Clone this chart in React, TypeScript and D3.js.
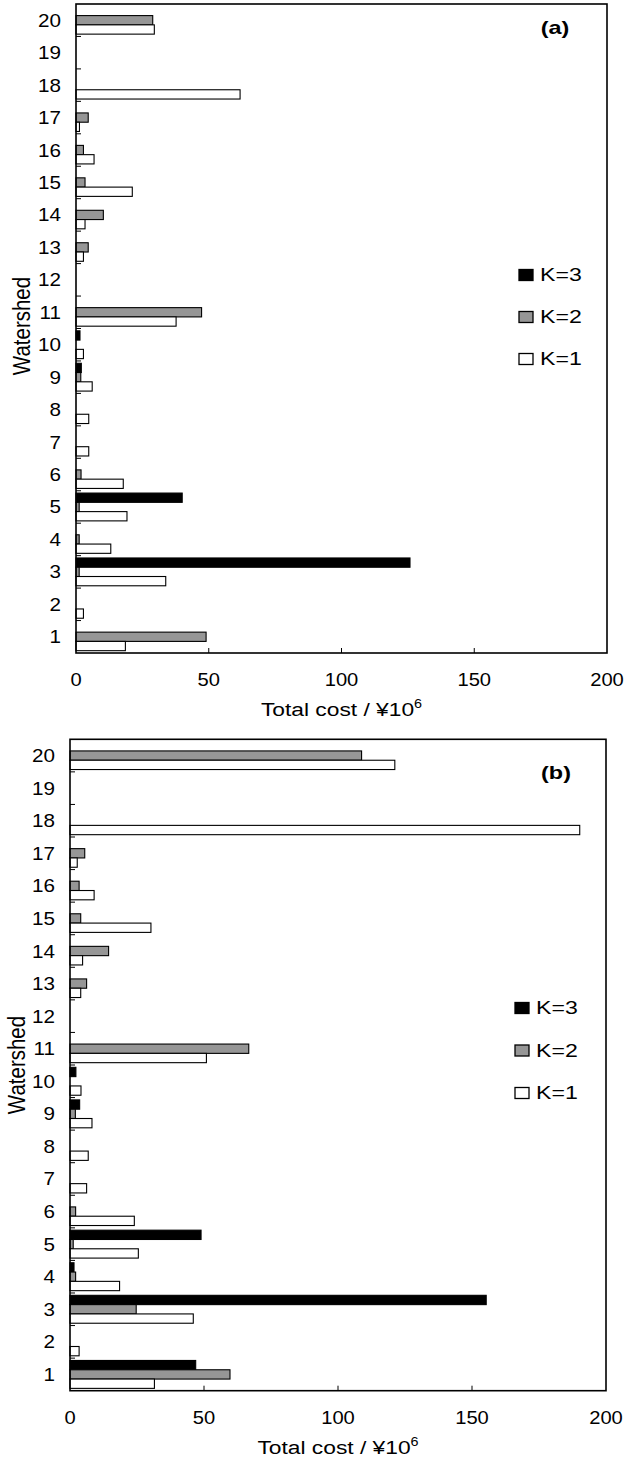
import * as d3 from "d3";

// watershed ids, drawn bottom (1) to top (20)
const watersheds = ["1", "2", "3", "4", "5", "6", "7", "8", "9", "10", "11", "12", "13", "14", "15", "16", "17", "18", "19", "20"];
const seriesNames = ["K=3", "K=2", "K=1"];
const seriesFill: Record<string, string> = { "K=3": "#000000", "K=2": "#969696", "K=1": "#ffffff" };
const xTicks = [0, 50, 100, 150, 200];

// panel (a)
const aK1 = [18.6, 2.8, 33.8, 13.1, 19.2, 17.8, 4.8, 4.8, 6.1, 2.8, 37.7, 0, 2.8, 3.4, 21.2, 6.8, 1.3, 61.8, 0, 29.5];
const aK2 = [49.0, 0, 1.2, 1.2, 1.2, 1.9, 0, 0, 1.8, 0, 47.3, 0, 4.6, 10.3, 3.4, 2.8, 4.6, 0, 0, 28.9];
const aK3 = [0, 0, 125.8, 0, 40.0, 0, 0, 0, 2.0, 1.5, 0, 0, 0, 0, 0, 0, 0, 0, 0, 0];

// panel (b)
const bK1 = [31.5, 3.4, 46.0, 18.5, 25.5, 24.0, 6.2, 6.8, 8.2, 4.1, 50.9, 0, 4.0, 4.7, 30.2, 9.0, 2.7, 190.2, 0, 121.2];
const bK2 = [59.7, 0, 24.7, 2.1, 1.2, 2.1, 0, 0, 2.0, 0, 66.7, 0, 6.2, 14.4, 4.0, 3.4, 5.5, 0, 0, 108.8];
const bK3 = [46.9, 0, 155.3, 1.5, 48.9, 0, 0, 0, 3.6, 2.2, 0, 0, 0, 0, 0, 0, 0, 0, 0, 0];

const FONT = "'Liberation Sans', Arial, sans-serif";
// the original figure is a bit wider than tall, so glyphs look stretched sideways
const SX = 1.18;

// text placed at (x, y) and widened horizontally
const at = (x: number, y: number, sx = SX) => `translate(${x},${y}) scale(${sx},1)`;

type PanelProps = {
  tag: string;
  k1: number[];
  k2: number[];
  k3: number[];
  left: number;
  right: number;
  top: number;
  bottom: number;
  legendX: number;
  legendY: number[];
  tagX: number;
  tagY: number;
  yTitleX: number;
  yTitleY: number;
};

function Panel(p: PanelProps) {
  const x = d3.scaleLinear().domain([0, 200]).range([p.left, p.right]);
  const y = d3.scaleBand().domain([...watersheds].reverse()).range([p.top, p.bottom]);
  const inner = d3.scaleBand().domain(seriesNames).range([0, y.bandwidth()]).paddingInner(0).paddingOuter(0.25);
  const values: Record<string, number[]> = { "K=3": p.k3, "K=2": p.k2, "K=1": p.k1 };
  const midX = (p.left + p.right) / 2;

  return (
    <g fontFamily={FONT}>
      {/* bars */}
      {seriesNames.map(s =>
        watersheds.map((w, i) => {
          const v = values[s][i];
          if (!v) return null;
          return (
            <rect
              key={s + w}
              x={x(0)}
              y={(y(w) as number) + (inner(s) as number)}
              width={x(v) - x(0)}
              height={inner.bandwidth()}
              fill={seriesFill[s]}
              stroke="#000"
              strokeWidth={1.1}
            />
          );
        })
      )}

      {/* y ticks at band boundaries */}
      {watersheds.slice(0, 19).map(w => {
        const yy = y(w) as number;
        return <line key={"yt" + w} x1={p.left} x2={p.left + 5} y1={yy} y2={yy} stroke="#000" strokeWidth={1} />;
      })}
      {/* x ticks */}
      {xTicks.slice(1, 4).map(t => (
        <line key={"xt" + t} x1={x(t)} x2={x(t)} y1={p.bottom} y2={p.bottom - 5} stroke="#000" strokeWidth={1} />
      ))}

      {/* frame */}
      <rect x={p.left} y={p.top} width={p.right - p.left} height={p.bottom - p.top} fill="none" stroke="#000" strokeWidth={1.6} />

      {/* y tick labels */}
      {watersheds.map(w => (
        <text key={"yl" + w} transform={at(p.left - 15, (y(w) as number) + y.bandwidth() / 2 + 6.5)} textAnchor="end" fontSize={17.5}>
          {w}
        </text>
      ))}
      {/* x tick labels */}
      {xTicks.map(t => (
        <text key={"xl" + t} transform={at(x(t), p.bottom + 33, 1.12)} textAnchor="middle" fontSize={18}>
          {t}
        </text>
      ))}

      <text transform={at(midX, p.bottom + 63, 1.2)} textAnchor="middle" fontSize={19}>
        Total cost / ¥10<tspan dy={-8} fontSize={12}>6</tspan>
      </text>
      <text transform={`translate(${p.yTitleX},${p.yTitleY}) scale(1.2,1) rotate(-90)`} textAnchor="middle" fontSize={20.5}>
        Watershed
      </text>

      <text transform={at(p.tagX, p.tagY, 1.3)} textAnchor="middle" fontSize={18} fontWeight="bold">
        {p.tag}
      </text>

      {/* legend */}
      {seriesNames.map((s, i) => (
        <g key={"lg" + s}>
          <rect x={p.legendX} y={p.legendY[i] - 5.5} width={14} height={11} fill={seriesFill[s]} stroke="#000" strokeWidth={1.3} />
          <text transform={at(p.legendX + 21, p.legendY[i] + 6.3, 1.32)} fontSize={17.5}>
            {s}
          </text>
        </g>
      ))}
    </g>
  );
}

export default function App() {
  return (
    <svg width={635} height={1458} style={{ position: "absolute", left: 0, top: 0, background: "#fff" }}>
      <Panel
        tag="(a)"
        k1={aK1}
        k2={aK2}
        k3={aK3}
        left={76}
        right={607}
        top={4}
        bottom={653}
        legendX={519}
        legendY={[275, 317, 359]}
        tagX={555}
        tagY={34}
        yTitleX={30}
        yTitleY={326}
      />
      <Panel
        tag="(b)"
        k1={bK1}
        k2={bK2}
        k3={bK3}
        left={70}
        right={606}
        top={739.3}
        bottom={1390.7}
        legendX={515}
        legendY={[1008, 1050.5, 1093]}
        tagX={556}
        tagY={779}
        yTitleX={25}
        yTitleY={1065}
      />
    </svg>
  );
}
